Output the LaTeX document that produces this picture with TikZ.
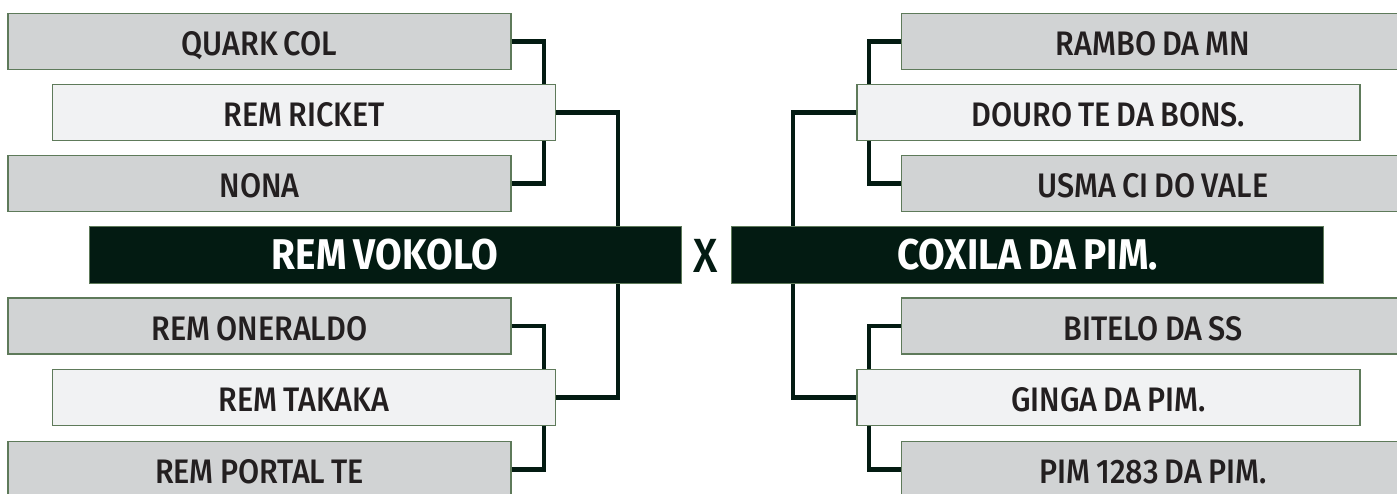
\documentclass[tikz,border=0pt]{standalone}
\usepackage{fontspec}
\setmainfont{Fira Sans}[UprightFont=* Medium,BoldFont=* Bold,FakeStretch=0.9,WordSpace=0.8]
\usetikzlibrary{positioning}
\definecolor{pitch}{RGB}{3,27,18}
\definecolor{boxgrey}{RGB}{209,211,212}
\definecolor{boxlight}{RGB}{241,242,243}
\definecolor{rim}{RGB}{94,122,90}
\definecolor{ink}{RGB}{35,31,32}

\begin{document}
\begin{tikzpicture}[x=1pt,y=-1pt,
  every node/.style={font=\fontsize{34}{34}\selectfont,text=ink,inner sep=0pt},
  loser/.style={draw=rim,line width=1.6pt,fill=boxgrey,minimum width=503pt,minimum height=56pt,text height=28pt,text depth=0pt},
  winner/.style={loser,fill=boxlight},
  final/.style={draw=rim,line width=1pt,fill=pitch,minimum width=592pt,minimum height=57pt,text=white,text height=30pt,text depth=0pt,font=\fontsize{43}{43}\selectfont\bfseries},
  link/.style={draw=pitch,line width=4.2pt}]
\useasboundingbox (0,0) rectangle (1397,494);
% left bracket
\node[loser] (quark) at (259.5,41.5) {QUARK COL};
\node[winner] (ricket) at (304,112.5) {REM RICKET};
\node[loser] (nona) at (259.5,183.5) {NONA};
\node[final] (vokolo) at (385,255) {REM VOKOLO};
\node[loser] (oneraldo) at (259.5,326) {REM ONERALDO};
\node[winner] (takaka) at (304,397.5) {REM TAKAKA};
\node[loser] (portal) at (259.5,469.5) {REM PORTAL TE};
% right bracket
\node[loser] (rambo) at (1153,41.5) {RAMBO DA MN};
\node[winner] (douro) at (1108.5,112.5) {DOURO TE DA BONS.};
\node[loser] (usma) at (1153,183.5) {USMA CI DO VALE};
\node[final] (coxila) at (1027.5,255) {COXILA DA PIM.};
\node[loser] (bitelo) at (1153,326) {BITELO DA SS};
\node[winner] (ginga) at (1108.5,397.5) {GINGA DA PIM.};
\node[loser] (pim) at (1153,469.5) {PIM 1283 DA PIM.};
\node[text=pitch,font=\fontsize{48}{48}\selectfont] (versus) at (706,256) {X};
% elbows
\coordinate (lin) at (544,0);
\coordinate (lout) at (618,0);
\coordinate (rin) at (869,0);
\coordinate (rout) at (793,0);
\draw[link] (quark.east) -| (ricket.north -| lin);
\draw[link] (nona.east) -| (ricket.south -| lin);
\draw[link] (ricket.east) -| (vokolo.north -| lout);
\draw[link] (oneraldo.east) -| (takaka.north -| lin);
\draw[link] (portal.east) -| (takaka.south -| lin);
\draw[link] (takaka.east) -| (vokolo.south -| lout);
\draw[link] (rambo.west) -| (douro.north -| rin);
\draw[link] (usma.west) -| (douro.south -| rin);
\draw[link] (douro.west) -| (coxila.north -| rout);
\draw[link] (bitelo.west) -| (ginga.north -| rin);
\draw[link] (pim.west) -| (ginga.south -| rin);
\draw[link] (ginga.west) -| (coxila.south -| rout);
\end{tikzpicture}
\end{document}
